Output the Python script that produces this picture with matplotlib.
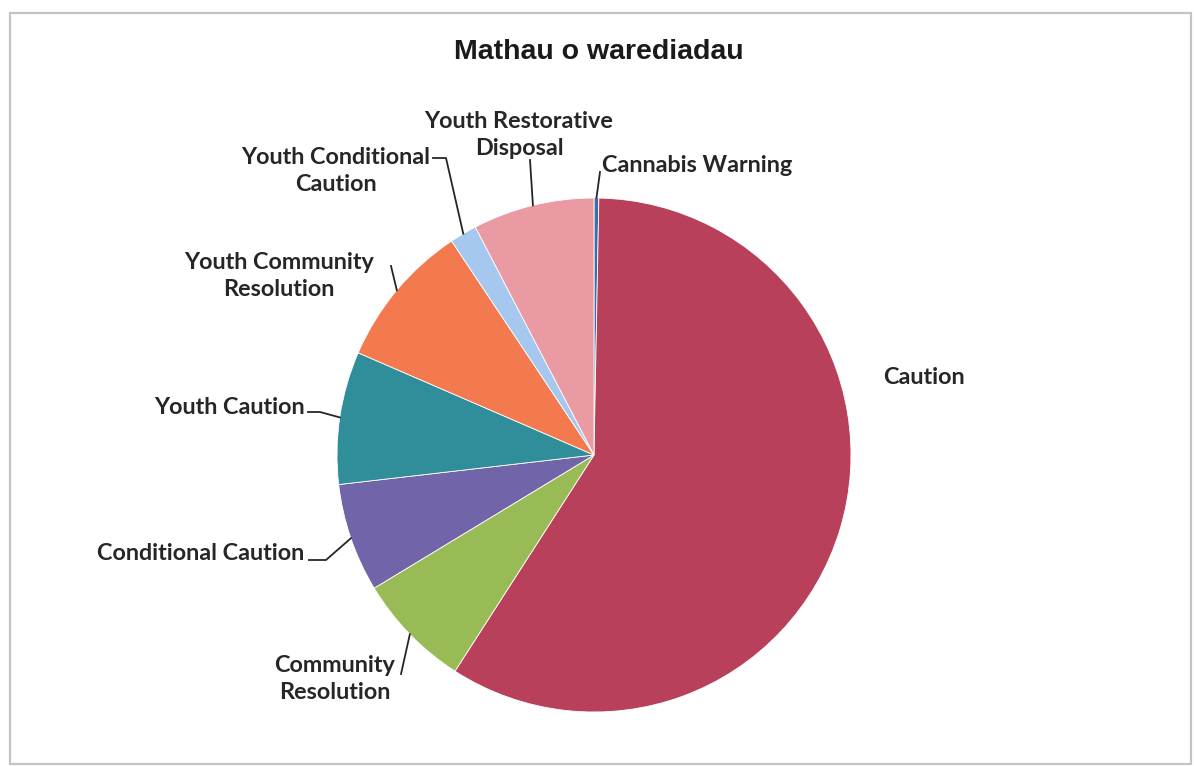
import numpy as np
import matplotlib.pyplot as plt
from matplotlib.patches import Rectangle

# data (clockwise from 12 o'clock, as in the original)
categories = ["Cannabis Warning", "Caution", "Community Resolution", "Conditional Caution",
              "Youth Caution", "Youth Community Resolution", "Youth Conditional Caution",
              "Youth Restorative Disposal"]
counts = [3, 585, 72, 68, 83, 91, 17, 76]
colors = ["#3a6ea8", "#b8405a", "#98bb55", "#7164a8", "#2f8e9a", "#f27a4e", "#a6c8ee", "#e99aa2"]

title = "Mathau o warediadau"

W, H = 1194, 766
CX, CY, R = 594, 455, 257   # pixels, from top-left


def Y(y):
    return H - y


# label layout: text pos, ha, leader start (pixels from top)
label_text = {
    "Cannabis Warning": "Cannabis Warning",
    "Caution": "Caution",
    "Community Resolution": "Community\nResolution",
    "Conditional Caution": "Conditional Caution",
    "Youth Caution": "Youth Caution",
    "Youth Community Resolution": "Youth Community\nResolution",
    "Youth Conditional Caution": "Youth Conditional\nCaution",
    "Youth Restorative Disposal": "Youth Restorative\nDisposal",
}
label_pos = {
    "Cannabis Warning": (602, 165, "left"),
    "Caution": (883, 378, "left"),
    "Community Resolution": (335, 679, "center"),
    "Conditional Caution": (304, 553, "right"),
    "Youth Caution": (305, 408, "right"),
    "Youth Community Resolution": (279, 276, "center"),
    "Youth Conditional Caution": (336, 171, "center"),
    "Youth Restorative Disposal": (519, 135, "center"),
}
leader_start = {
    "Cannabis Warning": [(600, 172)],
    "Community Resolution": [(401, 674)],
    "Conditional Caution": [(309, 560), (326, 560)],
    "Youth Caution": [(308, 412), (320, 412)],
    "Youth Community Resolution": [(391, 266)],
    "Youth Conditional Caution": [(433, 158), (446, 158)],
    "Youth Restorative Disposal": [(530, 160)],
}

fig = plt.figure(figsize=(W / 100, H / 100), dpi=100)
ax = fig.add_axes([0, 0, 1, 1])

ax.add_patch(Rectangle((10, Y(764)), 1181, 751, fill=False, edgecolor="#c4c4c4", lw=1.6))

wedges, _ = ax.pie(counts, colors=colors, startangle=90, counterclock=False,
                   center=(CX, Y(CY)), radius=R, frame=True,
                   wedgeprops=dict(edgecolor="white", linewidth=0.6))
ax.set_xlim(0, W)
ax.set_ylim(0, H)
ax.set_aspect("equal")
ax.axis("off")

lab_font = dict(family=["Lato", "DejaVu Sans"], fontweight="bold", fontsize=16.8, color="#262626")

for w, cat in zip(wedges, categories):
    x, y, ha = label_pos[cat]
    ax.text(x, Y(y), label_text[cat], ha=ha, va="center", linespacing=1.35, **lab_font)
    if cat in leader_start:
        mid = np.deg2rad((w.theta1 + w.theta2) / 2)
        rx = CX + R * np.cos(mid)
        ry = Y(CY) + R * np.sin(mid)
        pts = leader_start[cat]
        xs = [p[0] for p in pts] + [rx]
        ys = [Y(p[1]) for p in pts] + [ry]
        ax.plot(xs, ys, color="#262626", lw=1.3)

ax.text(599, Y(52), title, ha="center", va="center", fontsize=20.5, fontweight="bold",
        family=["Liberation Sans", "DejaVu Sans"], color="#1a1a1a")

fig.savefig("out.png", dpi=100, facecolor="white")
